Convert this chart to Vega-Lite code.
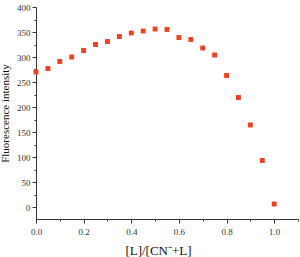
{
  "$schema": "https://vega.github.io/schema/vega-lite/v6.json",
  "width": 262,
  "height": 212,
  "autosize": "none",
  "padding": {"left": 36, "top": 7, "right": 2, "bottom": 38},
  "background": "white",
  "config": {"view": {"stroke": null}, "font": "Liberation Serif"},
  "data": {"values": [
    {"x": 0.0, "y": 270}, {"x": 0.05, "y": 277}, {"x": 0.1, "y": 291}, {"x": 0.15, "y": 300},
    {"x": 0.2, "y": 313}, {"x": 0.25, "y": 325}, {"x": 0.3, "y": 331}, {"x": 0.35, "y": 341},
    {"x": 0.4, "y": 348}, {"x": 0.45, "y": 352}, {"x": 0.5, "y": 356}, {"x": 0.55, "y": 355},
    {"x": 0.6, "y": 339}, {"x": 0.65, "y": 335}, {"x": 0.7, "y": 318}, {"x": 0.75, "y": 304},
    {"x": 0.8, "y": 263}, {"x": 0.85, "y": 219}, {"x": 0.9, "y": 164}, {"x": 0.95, "y": 93},
    {"x": 1.0, "y": 6}
  ]},
  "mark": {"type": "square", "color": "#f04020", "opacity": 1, "size": 24},
  "encoding": {
    "x": {"field": "x", "type": "quantitative",
      "scale": {"domain": [0, 1.1], "nice": false, "zero": false},
      "axis": {"values": [0, 0.1, 0.2, 0.3, 0.4, 0.5, 0.6, 0.7, 0.8, 0.9, 1.0, 1.1],
        "labelExpr": "round(datum.value*10) % 2 == 0 && datum.value < 1.05 ? format(datum.value, '.1f') : ''",
        "tickSize": {"condition": {"test": "round(datum.value*10) % 2 != 0", "value": 2}, "value": 4},
        "grid": false, "domainColor": "#333", "tickColor": "#333", "labelFlush": false,
        "labelFont": "Liberation Serif", "labelFontSize": 9, "labelColor": "#333", "labelPadding": 4,
        "title": "[L]/[CN⁻+L]", "titleFont": "Liberation Serif", "titleFontSize": 13, "titleFontWeight": "normal", "titleColor": "#111", "titlePadding": 8, "titleX": 122}},
    "y": {"field": "y", "type": "quantitative",
      "scale": {"domain": [-24, 400], "nice": false, "zero": false},
      "axis": {"values": [-25, 0, 25, 50, 75, 100, 125, 150, 175, 200, 225, 250, 275, 300, 325, 350, 375, 400],
        "labelExpr": "datum.value % 50 == 0 ? datum.label : ''",
        "tickSize": {"condition": {"test": "datum.value % 50 != 0", "value": 2}, "value": 4},
        "grid": false, "domainColor": "#333", "tickColor": "#333", "labelFlush": false,
        "labelFont": "Liberation Serif", "labelFontSize": 9, "labelColor": "#333", "labelPadding": 2,
        "title": "Fluorescence intensity", "titleFont": "Liberation Serif", "titleFontSize": 11, "titleFontWeight": "normal", "titleColor": "#111", "titlePadding": 6}}
  }
}
